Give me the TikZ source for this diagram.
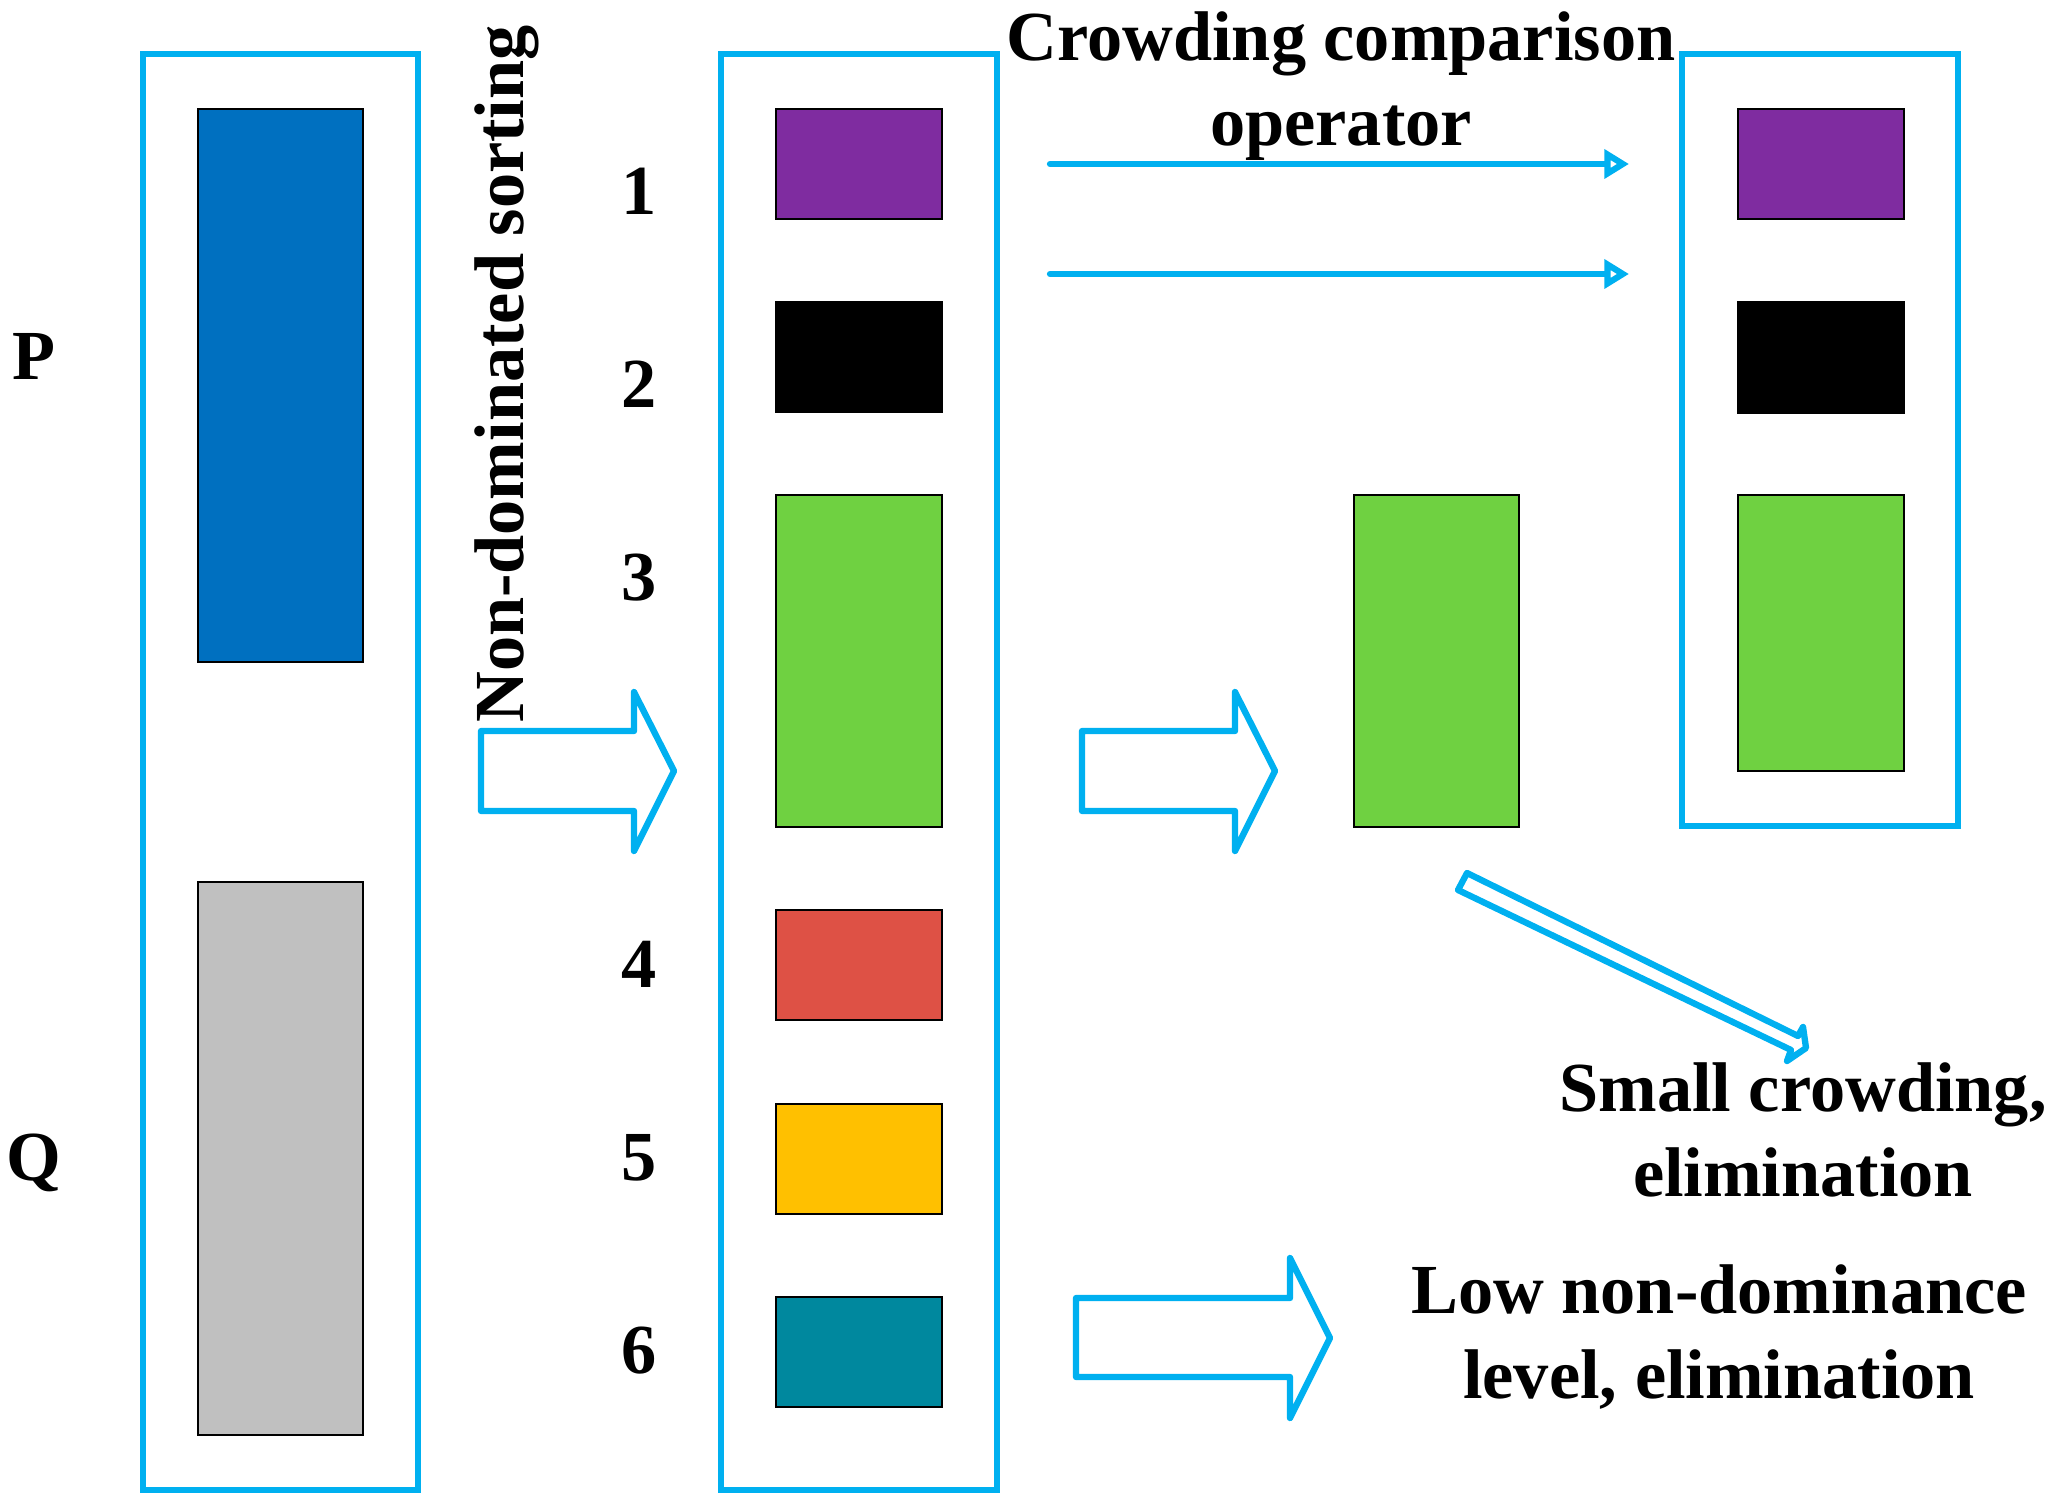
\documentclass[tikz,border=0pt]{standalone}
\usepackage{fontspec}
\setmainfont{Liberation Serif}
\usetikzlibrary{arrows.meta}

\definecolor{lineblue}{HTML}{00B0F0}
\definecolor{popblue}{HTML}{0070C0}
\definecolor{popgray}{HTML}{C0C0C0}
\definecolor{levpurple}{HTML}{7F2CA0}
\definecolor{levgreen}{HTML}{6FD141}
\definecolor{levred}{HTML}{DE5145}
\definecolor{levyellow}{HTML}{FFC000}
\definecolor{levteal}{HTML}{00889E}

\tikzset{
  frame/.style={draw=lineblue, line width=1.8pt},
  blockarrow/.style={draw=lineblue, line width=1.8pt, line join=round},
  thinarrow/.style={draw=lineblue, line width=1.8pt, line cap=round, -{Triangle[open, length=7pt, width=8pt]}},
  level/.style={draw=black, line width=0.5pt},
  lbl/.style={anchor=base, inner sep=0pt, font=\fontsize{20}{24}\selectfont\bfseries},
  txt/.style={align=center, inner sep=0pt, font=\fontsize{20}{24}\selectfont\bfseries}
}

\begin{document}
\begin{tikzpicture}[x=0.01cm, y=-0.01cm]
\useasboundingbox (0,0) rectangle (2052,1498);
% parents and offspring
\draw[frame] (143,54) rectangle (418,1490);
\draw[level, fill=popblue] (198,109) rectangle (363,662);
\draw[level, fill=popgray] (198,882) rectangle (363,1435);
\node[lbl] (P) at (34,380) {P};
\node[lbl] (Q) at (34,1180) {Q};

\node[lbl, rotate=90] (sort) at (523,374) {Non-dominated sorting};
\draw[blockarrow] (481,731) -- (634,731) -- (634,692) -- (674,771) -- (634,851) -- (634,811) -- (481,811) -- cycle;

% fronts after sorting
\draw[frame] (721,54) rectangle (997,1490);
\draw[level, fill=levpurple] (776,109) rectangle (942,219);
\draw[level, fill=black] (776,302) rectangle (942,412);
\draw[level, fill=levgreen] (776,495) rectangle (942,827);
\draw[level, fill=levred] (776,910) rectangle (942,1020);
\draw[level, fill=levyellow] (776,1104) rectangle (942,1214);
\draw[level, fill=levteal] (776,1297) rectangle (942,1407);
\node[lbl] (n1) at (639,215) {1};
\node[lbl] (n2) at (639,408) {2};
\node[lbl] (n3) at (639,601) {3};
\node[lbl] (n4) at (639,987) {4};
\node[lbl] (n5) at (639,1180) {5};
\node[lbl] (n6) at (639,1373) {6};

% crowding comparison
\node[txt] (crowd) at (1341,86) {Crowding comparison\\operator};
\coordinate (a1) at (1050,164); \coordinate (b1) at (1629,164);
\coordinate (a2) at (1050,274); \coordinate (b2) at (1629,274);
\draw[thinarrow] (a1) -- (b1);
\draw[thinarrow] (a2) -- (b2);
\draw[blockarrow] (1082,731) -- (1235,731) -- (1235,692) -- (1275,771) -- (1235,851) -- (1235,811) -- (1082,811) -- cycle;
\draw[level, fill=levgreen] (1354,495) rectangle (1519,827);

% new population
\draw[frame] (1682,54) rectangle (1958,826);
\draw[level, fill=levpurple] (1738,109) rectangle (1904,219);
\draw[level, fill=black] (1738,302) rectangle (1904,413);
\draw[level, fill=levgreen] (1738,495) rectangle (1904,771);

% eliminated
\draw[blockarrow] (1467,873) -- (1798,1036) -- (1803,1027) -- (1806,1048) -- (1787,1061) -- (1791,1050) -- (1458,890) -- cycle;
\node[txt] (small) at (1803,1130) {Small crowding,\\elimination};
\draw[blockarrow] (1076,1298) -- (1290,1298) -- (1290,1258) -- (1330,1338) -- (1290,1418) -- (1290,1377) -- (1076,1377) -- cycle;
\node[txt] (low) at (1719,1337) {Low non-dominance\\level, elimination};
\end{tikzpicture}
\end{document}
